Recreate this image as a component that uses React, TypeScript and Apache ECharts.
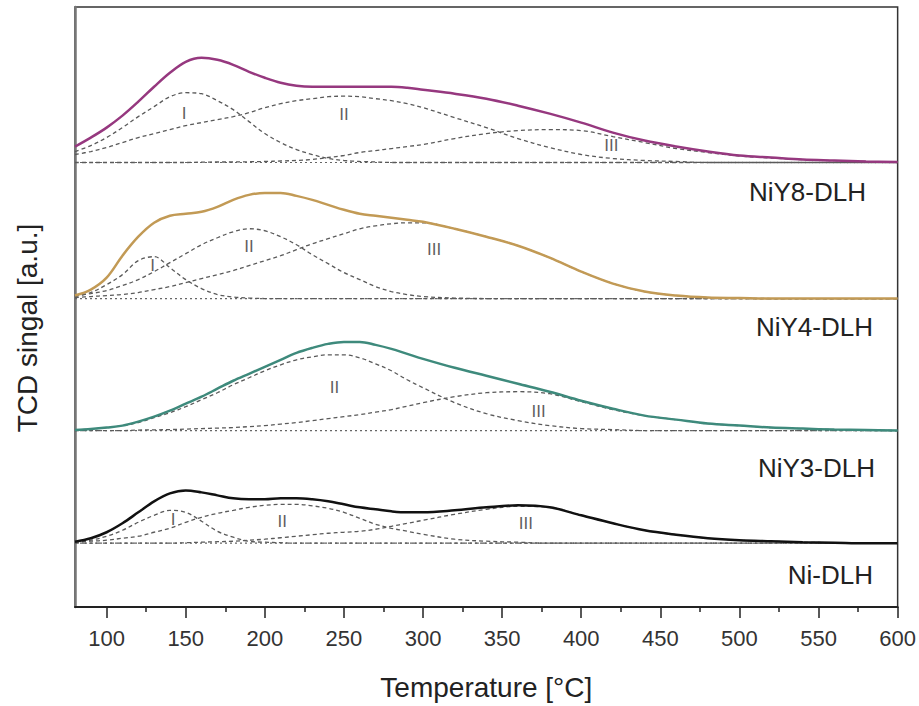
import React, { useEffect, useRef } from "react";
import * as echarts from "echarts";

const temps = [80, 90, 100, 110, 120, 130, 140, 150, 160, 170, 180, 190, 200, 210, 220, 230, 240, 250, 260, 270, 280, 290, 300, 320, 340, 360, 380, 400, 420, 440, 460, 480, 500, 520, 540, 560, 580, 600];

const majorTicks = [100, 150, 200, 250, 300, 350, 400, 450, 500, 550, 600];
const minorTicks = [125, 175, 225, 275, 325, 375, 425, 475, 525, 575];

// NiY8-DLH
const niY8Sum = [16, 25, 35, 47, 61, 76, 90, 101, 105, 103, 98, 91, 85, 80, 77, 76, 76, 76, 76, 76, 76, 75, 73, 69, 64, 57, 49, 40, 30, 22, 16, 11, 7, 5, 3, 2, 1, 0.5];
const niY8I = [11, 17, 25, 35, 46, 56, 66, 70, 69, 62, 53, 41, 29, 20, 13, 8, 4, 2, 1, 0.5, 0, 0, 0, 0, 0, 0, 0, 0, 0, 0, 0, 0, 0, 0, 0, 0, 0, 0];
const niY8II = [8, 11, 15, 20, 25, 29, 33, 37, 40, 43, 46, 50, 55, 59, 62, 64, 66, 66.5, 66, 64, 62, 59, 55, 45, 35, 24, 15, 8, 4, 2, 1, 0, 0, 0, 0, 0, 0, 0];
const niY8III = [0, 0, 0, 0, 0, 0, 0, 0, 0.3, 0.5, 0.5, 0.7, 1, 1.5, 2, 3, 5, 7, 10, 12, 14, 16, 18, 24, 29, 32, 33, 32, 26, 20, 14, 10, 6.5, 4.5, 2.8, 1.8, 1, 0.4];

// NiY4-DLH
const niY4Sum = [3, 9, 21, 43, 62, 76, 83, 85, 87, 92, 99, 104, 106, 106, 103, 99, 94, 89, 85, 83, 81, 79, 77, 70, 62, 53, 41, 27, 15, 7, 3, 1, 0.5, 0, 0, 0, 0, 0];
const niY4I = [2, 6, 14, 24, 38, 42, 31, 19, 10, 4, 1.5, 0.5, 0, 0, 0, 0, 0, 0, 0, 0, 0, 0, 0, 0, 0, 0, 0, 0, 0, 0, 0, 0, 0, 0, 0, 0, 0, 0];
const niY4II = [3, 5, 8, 13, 19, 27, 36, 45, 54, 61, 67, 70, 68, 62, 54, 44, 35, 26, 19, 12, 7, 4, 2, 0.5, 0, 0, 0, 0, 0, 0, 0, 0, 0, 0, 0, 0, 0, 0];
const niY4III = [1, 2, 3, 4, 6, 9, 12, 16, 20, 24, 28, 33, 38, 43, 49, 55, 60, 65, 70, 73, 75, 76, 76, 70, 62, 53, 41, 27, 15, 7, 3, 1, 0.5, 0, 0, 0, 0, 0];

// NiY3-DLH
const niY3Sum = [0.5, 1.5, 3, 5, 9, 14, 20, 27, 34, 42, 50, 57, 64, 71, 78, 83, 87, 89, 89, 86, 82, 77, 72, 63, 55, 47, 39, 30, 22, 15, 11, 7, 5, 3, 2, 1, 0.5, 0];
const niY3II = [0.5, 1.5, 3, 5, 8, 13, 18, 24, 31, 38, 46, 53, 60, 66, 71, 74, 76, 76, 73, 67, 60, 51, 43, 28, 17, 10, 5, 2, 1, 0, 0, 0, 0, 0, 0, 0, 0, 0];
const niY3III = [0, 0, 0, 0, 0.5, 0.7, 1, 1.5, 2, 2.5, 3, 4, 5, 6.5, 8, 10, 12, 14, 16, 18.5, 21, 24.5, 28, 34, 38, 39, 37, 29, 21, 15, 11, 7, 5, 3, 2, 1, 0.5, 0];

// Ni-DLH
const niSum = [1.5, 5, 11, 20, 31, 42, 50, 53, 51, 48, 45, 44, 44, 45, 45, 44, 42, 39, 36, 34, 32, 31, 31, 33, 36, 38, 36, 28, 20, 13, 8.5, 5, 3, 2, 1, 0.5, 0, 0];
const niI = [1, 3, 7, 13, 21, 28, 33, 31, 22, 12, 6, 2, 1, 0.5, 0, 0, 0, 0, 0, 0, 0, 0, 0, 0, 0, 0, 0, 0, 0, 0, 0, 0, 0, 0, 0, 0, 0, 0];
const niII = [1, 2, 3, 5, 7, 11, 15, 21, 26, 30, 33, 36, 38, 39, 39, 37.5, 35, 31, 25, 19, 15, 12, 9, 4, 2, 1, 0, 0, 0, 0, 0, 0, 0, 0, 0, 0, 0, 0];
const niIII = [0, 0, 0, 0, 0, 0, 0, 0.5, 1, 1.5, 2, 3, 4, 5.5, 7, 8.5, 10, 11, 12, 14, 17, 20, 23, 29, 34, 37, 36, 28, 20, 13, 8.5, 5, 3, 2, 1, 0.5, 0, 0];

// Peak labels: name, temperature, height above the curve's own baseline
const niY8PeakNames = ["I", "II", "III"];
const niY8PeakTemps = [149, 250, 419];
const niY8PeakHeights = [49, 48, 17];
const niY4PeakNames = ["I", "II", "III"];
const niY4PeakTemps = [129, 190, 307];
const niY4PeakHeights = [33, 52, 49];
const niY3PeakNames = ["II", "III"];
const niY3PeakTemps = [244, 373];
const niY3PeakHeights = [43, 19];
const niPeakNames = ["I", "II", "III"];
const niPeakTemps = [142, 211, 365];
const niPeakHeights = [24, 22, 20];

const sampleNames = ["NiY8-DLH", "NiY4-DLH", "NiY3-DLH", "Ni-DLH"];

const FONT = "'Liberation Sans', Arial, Helvetica, sans-serif";

export default function App() {
  const ref = useRef<HTMLDivElement>(null);

  useEffect(() => {
    if (!ref.current) return;
    const chart = echarts.init(ref.current, undefined, { renderer: "svg" });

    const groups = [
      { sum: niY8Sum, comps: [niY8I, niY8II, niY8III], offset: 446, color: "#96387f", names: niY8PeakNames, pt: niY8PeakTemps, ph: niY8PeakHeights },
      { sum: niY4Sum, comps: [niY4I, niY4II, niY4III], offset: 309.5, color: "#c29a55", names: niY4PeakNames, pt: niY4PeakTemps, ph: niY4PeakHeights },
      { sum: niY3Sum, comps: [niY3II, niY3III], offset: 177, color: "#3e8a7c", names: niY3PeakNames, pt: niY3PeakTemps, ph: niY3PeakHeights },
      { sum: niSum, comps: [niI, niII, niIII], offset: 64, color: "#111111", names: niPeakNames, pt: niPeakTemps, ph: niPeakHeights },
    ];

    const series: any[] = [];
    groups.forEach((g, gi) => {
      series.push({
        type: "line",
        name: sampleNames[gi] + " baseline",
        data: [[temps[0], g.offset], [temps[temps.length - 1], g.offset]],
        showSymbol: false,
        symbol: "none",
        silent: true,
        lineStyle: { color: "#666", width: 1.2, type: [2, 3] },
        z: 1,
      });
      g.comps.forEach((c, ci) => {
        series.push({
          type: "line",
          name: sampleNames[gi] + " comp " + ci,
          data: temps.map((t, i) => [t, c[i] + g.offset]),
          showSymbol: false,
          symbol: "none",
          smooth: 0.35,
          silent: true,
          lineStyle: { color: "#5a5a5a", width: 1.3, type: [4, 3] },
          z: 2,
        });
      });
      series.push({
        type: "line",
        name: sampleNames[gi],
        data: temps.map((t, i) => [t, g.sum[i] + g.offset]),
        showSymbol: false,
        symbol: "none",
        smooth: 0.35,
        silent: true,
        lineStyle: { color: g.color, width: 2.5 },
        z: 3,
      });
      series.push({
        type: "scatter",
        name: sampleNames[gi] + " labels",
        data: g.names.map((n, i) => ({ name: n, value: [g.pt[i], g.ph[i] + g.offset] })),
        symbolSize: 1,
        itemStyle: { color: "rgba(0,0,0,0)" },
        silent: true,
        label: {
          show: true,
          position: "inside",
          formatter: "{b}",
          color: "#333333",
          fontSize: 17,
          fontFamily: FONT,
        },
        z: 4,
      });
    });

    const groupLabelY = [192, 327, 468, 575];
    const groupLabelX = [866, 873, 875, 873];

    const option: any = {
      animation: false,
      backgroundColor: "#ffffff",
      grid: {
        left: 75,
        right: 21,
        top: 7,
        bottom: 97,
        show: true,
        borderColor: "#333",
        borderWidth: 1.5,
        backgroundColor: "transparent",
      },
      xAxis: [
        {
          type: "value",
          min: 80,
          max: 600,
          position: "bottom",
          splitLine: { show: false },
          axisLine: { show: true, onZero: false, lineStyle: { color: "#222", width: 2 } },
          axisTick: { show: true, inside: false, length: 11, customValues: majorTicks, lineStyle: { color: "#222", width: 1.5 } },
          axisLabel: { show: true, customValues: majorTicks, margin: 20, fontSize: 22, color: "#333", fontFamily: FONT },
          name: "Temperature [°C]",
          nameLocation: "middle",
          nameGap: 66,
          nameTextStyle: { fontSize: 28, color: "#222", fontFamily: FONT },
        },
        {
          type: "value",
          min: 80,
          max: 600,
          position: "bottom",
          gridIndex: 0,
          splitLine: { show: false },
          axisLine: { show: false, onZero: false },
          axisLabel: { show: false },
          axisTick: { show: true, inside: false, length: 5, customValues: minorTicks, lineStyle: { color: "#222", width: 1.5 } },
        },
      ],
      yAxis: {
        type: "value",
        min: 0,
        max: 602,
        axisLine: { show: true, lineStyle: { color: "#777", width: 2.5 } },
        axisTick: { show: false },
        axisLabel: { show: false },
        splitLine: { show: false },
      },
      graphic: [
        {
          type: "text",
          x: 27,
          y: 328,
          rotation: Math.PI / 2,
          style: {
            text: "TCD singal [a.u.]",
            align: "center",
            verticalAlign: "middle",
            fontSize: 28,
            fontFamily: FONT,
            fill: "#222",
          },
        },
        ...sampleNames.map((n, i) => ({
          type: "text",
          x: groupLabelX[i],
          y: groupLabelY[i],
          style: {
            text: n,
            align: "right",
            verticalAlign: "middle",
            fontSize: 26,
            fontFamily: FONT,
            fill: "#222",
          },
        })),
      ],
      series,
    };

    chart.setOption(option);
    return () => chart.dispose();
  }, []);

  return (
    <div
      ref={ref}
      style={{ position: "fixed", left: 0, top: 0, width: 919, height: 706, background: "#fff" }}
    />
  );
}
